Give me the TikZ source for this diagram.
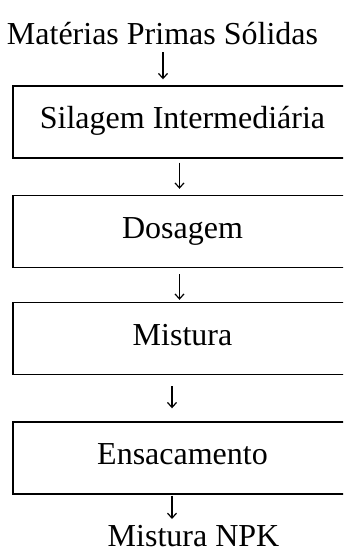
\documentclass[tikz,border=0pt]{standalone}
\usepackage{fontspec}
\setmainfont{Liberation Serif}
\usetikzlibrary{arrows.meta,calc}
\begin{document}
\begin{tikzpicture}[x=1pt,y=1pt,
  txt/.style={font=\fontsize{32}{38}\selectfont, inner sep=0pt},
  stepbox/.style={draw, line width=1.4pt, minimum width=339pt, minimum height=72pt,
    inner sep=0pt, text height=22pt, text depth=9pt, font=\fontsize{32}{38}\selectfont},
  arr/.style={line width=1.2pt, -{Straight Barb[length=5pt,width=9pt,line width=1.2pt]}}]
\useasboundingbox (0,0) rectangle (343,-554);
\clip (0,0) rectangle (343,-554);
\fill[white] (0,0) rectangle (343,-554);
\node[txt, anchor=base] (t0) at (162.5,-44) {Matérias Primas Sólidas};
\node[stepbox] (b1) at (182.5,-122) {Silagem Intermediária};
\node[stepbox] (b2) at (182.5,-231.5) {Dosagem};
\node[stepbox] (b3) at (182.5,-338.5) {Mistura};
\node[stepbox] (b4) at (182.5,-458) {Ensacamento};
\node[txt, anchor=base, text depth=0pt] (t5) at (193.5,-546) {Mistura NPK};
\coordinate (x1) at (163,0);
\coordinate (x2) at (179.5,0);
\coordinate (x3) at (172,0);
\draw[arr] ($(x1 |- t0.base)+(0,-8)$) -- ($(x1 |- b1.north)+(0,6)$);
\draw[arr] ($(x2 |- b1.south)+(0,-4)$) -- ($(x2 |- b2.north)+(0,6)$);
\draw[arr] ($(x2 |- b2.south)+(0,-6)$) -- ($(x2 |- b3.north)+(0,2)$);
\draw[arr] ($(x3 |- b3.south)+(0,-11)$) -- ($(x3 |- b4.north)+(0,13)$);
\draw[arr] ($(x3 |- b4.south)+(0,-1)$) -- ($(x3 |- t5.base)+(0,27)$);
\end{tikzpicture}
\end{document}
